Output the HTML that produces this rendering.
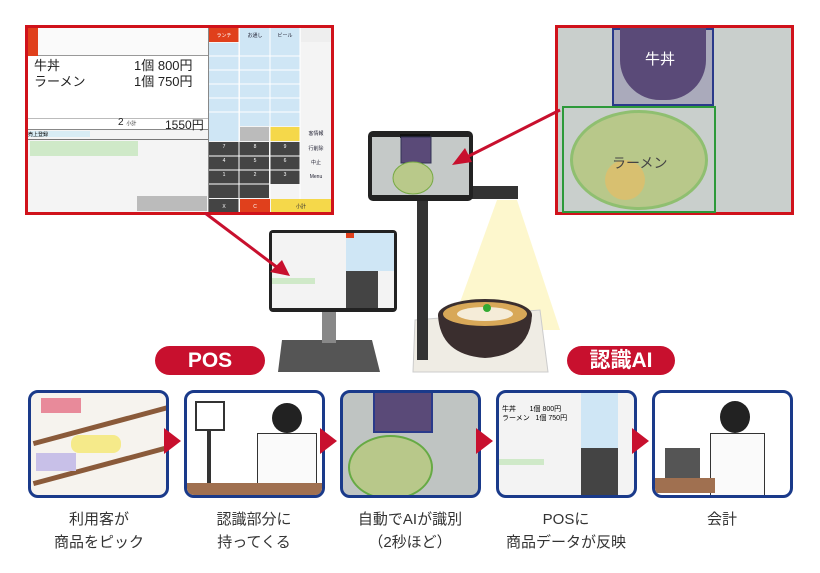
<!DOCTYPE html>
<html><head><meta charset="utf-8"><style>
*{margin:0;padding:0;box-sizing:border-box}
body{width:820px;height:573px;background:#fff;position:relative;overflow:hidden;font-family:"Liberation Sans","Noto Sans CJK JP",sans-serif}
.a{position:absolute}
.k{position:absolute;font-size:5px;display:flex;align-items:center;justify-content:center;color:#223;text-align:center;line-height:1}
.box{position:absolute;top:390px;width:141px;height:108px;border:3px solid #1a3a8a;border-radius:10px;overflow:hidden;background:#fff}
.lab{position:absolute;top:508px;width:160px;text-align:center;font-size:15px;line-height:23px;color:#333}
.tri{position:absolute;top:428px;width:0;height:0;border-top:13px solid transparent;border-bottom:13px solid transparent;border-left:17px solid #c8102e}
.pill{position:absolute;top:346px;height:29px;border-radius:15px;background:#c8102e;color:#fff;font-weight:bold;font-size:21px;text-align:center;line-height:29px}
</style></head><body>

<!-- top-left POS screen -->
<div class="a" style="left:25px;top:25px;width:309px;height:190px;border:3px solid #d0121b;background:#f4f4f4"></div>
<div class="a" style="left:28px;top:28px;width:10px;height:32px;background:#e0401c"></div>
<div class="a" style="left:38px;top:28px;width:170px;height:28px;background:#fafafa;border-bottom:1px solid #999"></div>
<div class="a" style="left:28px;top:56px;width:180px;height:62px;background:#fff"></div>
<div class="a" style="left:34px;top:58px;font-size:13px;line-height:16px;color:#222">牛丼<br>ラーメン</div>
<div class="a" style="left:134px;top:58px;font-size:13px;line-height:16px;color:#222">1個 800円<br>1個 750円</div>
<div class="a" style="left:28px;top:118px;width:180px;height:12px;background:#fff;border-top:1px solid #bbb;border-bottom:1px solid #888"></div>
<div class="a" style="left:118px;top:117px;font-size:10px;color:#222">2 <span style="font-size:5px">小計</span></div>
<div class="a" style="left:165px;top:116px;font-size:12px;color:#222">1550円</div>
<div class="a" style="left:28px;top:131px;width:62px;height:6px;background:#d8ecf4;font-size:5px">売上登録</div>
<div class="a" style="left:28px;top:139px;width:180px;height:1px;background:#777"></div>
<div class="a" style="left:30px;top:141px;width:108px;height:15px;background:#cfe9c8"></div>
<div class="a" style="left:137px;top:196px;width:70px;height:15px;background:#bbb"></div>
<div class="a" style="left:208px;top:28px;width:1px;height:184px;background:#888"></div>
<div id="kp"></div>

<!-- top-right AI frame -->
<div class="a" style="left:555px;top:25px;width:239px;height:190px;border:3px solid #d0121b;background:#c9cfcc"></div>
<div class="a" style="left:612px;top:28px;width:102px;height:78px;border:2px solid #2a3a8a;background:#aab"></div>
<div class="a" style="left:620px;top:28px;width:86px;height:72px;border-radius:0 0 40px 40px;background:#5a4a78"></div>
<div class="a" style="left:645px;top:48px;font-size:15px;color:#fff">牛丼</div>
<div class="a" style="left:562px;top:106px;width:154px;height:107px;border:2px solid #2d9a3a"></div>
<div class="a" style="left:570px;top:110px;width:138px;height:100px;border-radius:50%;background:#b8c88a;border:3px solid #8fbf70"></div>
<div class="a" style="left:605px;top:160px;width:40px;height:40px;border-radius:50%;background:#d8c070"></div>
<div class="a" style="left:612px;top:153px;font-size:14px;color:#444">ラーメン</div>

<!-- central device -->
<svg class="a" style="left:0;top:0" width="820" height="380">
<polygon points="497,200 517,200 560,330 450,330" fill="#fdf5c0" opacity=".8"/>
<polygon points="415,320 540,310 548,372 413,372" fill="#efece4" stroke="#ccc"/>
<rect x="417" y="195" width="11" height="165" fill="#333"/>
<rect x="470" y="186" width="48" height="13" fill="#333"/>
<rect x="368" y="131" width="105" height="70" rx="5" fill="#222"/>
<rect x="372" y="137" width="97" height="58" fill="#c5c9c8"/>
<rect x="400" y="134" width="30" height="4" fill="#111"/>
<rect x="401" y="137" width="30" height="26" fill="#5a4a78" stroke="#335" />
<ellipse cx="413" cy="178" rx="20" ry="16" fill="#b9c98a" stroke="#7a4"/>
<ellipse cx="485" cy="315" rx="47" ry="16" fill="#3a2e2e"/>
<path d="M438,315 Q440,355 485,358 Q530,355 532,315Z" fill="#3a2e2e"/>
<ellipse cx="485" cy="314" rx="42" ry="12" fill="#d8a858"/>
<ellipse cx="485" cy="314" rx="28" ry="7" fill="#f5ecd8"/>
<circle cx="487" cy="308" r="4" fill="#3a3"/>
<polygon points="282,340 372,340 380,372 278,372" fill="#555"/>
<rect x="322" y="305" width="14" height="38" fill="#888"/>
<rect x="269" y="230" width="128" height="82" rx="4" fill="#222"/>
<rect x="272" y="233" width="122" height="75" fill="#f3f3f3"/>
<rect x="346" y="233" width="48" height="38" fill="#cfe6f5"/>
<rect x="346" y="271" width="32" height="37" fill="#444"/>
<rect x="272" y="278" width="43" height="6" fill="#cfe9c8"/>
<rect x="346" y="233" width="8" height="5" fill="#e0401c"/>
<line x1="205" y1="213" x2="278" y2="268" stroke="#c8102e" stroke-width="3"/>
<polygon points="290,276 270,272 282,260" fill="#c8102e"/>
<line x1="560" y1="110" x2="465" y2="158" stroke="#c8102e" stroke-width="3"/>
<polygon points="452,165 465,148 472,162" fill="#c8102e"/>
</svg>

<div class="pill" style="left:155px;width:110px">POS</div>
<div class="pill" style="left:567px;width:108px">認識AI</div>

<!-- bottom flow -->
<div class="box" style="left:28px;background:#f6f3ee">
 <div class="a" style="left:0;top:30px;width:140px;height:5px;background:#8a5a3a;transform:rotate(-15deg)"></div>
 <div class="a" style="left:0;top:70px;width:140px;height:5px;background:#8a5a3a;transform:rotate(-15deg)"></div>
 <div class="a" style="left:40px;top:42px;width:50px;height:18px;background:#f5ea8a;border-radius:8px"></div>
 <div class="a" style="left:5px;top:60px;width:40px;height:18px;background:#c8c0e8"></div>
 <div class="a" style="left:10px;top:5px;width:40px;height:15px;background:#e88a9a"></div>
</div>
<div class="box" style="left:184px">
 <div class="a" style="left:8px;top:8px;width:30px;height:30px;border:2px solid #333"></div>
 <div class="a" style="left:20px;top:38px;width:4px;height:60px;background:#333"></div>
 <div class="a" style="left:85px;top:10px;width:30px;height:30px;border-radius:50%;background:#222"></div>
 <div class="a" style="left:70px;top:40px;width:60px;height:70px;background:#fafafa;border:1px solid #333"></div>
 <div class="a" style="left:0;top:90px;width:140px;height:15px;background:#a07050"></div>
</div>
<div class="box" style="left:340px;background:#bfc4c2">
 <div class="a" style="left:30px;top:-5px;width:60px;height:45px;border:2px solid #2a3a8a;background:#5a4a78"></div>
 <div class="a" style="left:5px;top:42px;width:85px;height:65px;border-radius:50%;background:#b8c88a;border:2px solid #6a4"></div>
</div>
<div class="box" style="left:496px;background:#f3f3f3">
 <div class="a" style="left:82px;top:0;width:37px;height:55px;background:#cfe6f5"></div>
 <div class="a" style="left:82px;top:55px;width:37px;height:48px;background:#444"></div>
 <div class="a" style="left:3px;top:12px;font-size:7px;line-height:9px">牛丼 &nbsp;&nbsp;&nbsp;&nbsp;&nbsp;&nbsp;1個 800円<br>ラーメン &nbsp;&nbsp;1個 750円</div>
 <div class="a" style="left:0;top:66px;width:45px;height:6px;background:#cfe9c8"></div>
</div>
<div class="box" style="left:652px">
 <div class="a" style="left:65px;top:8px;width:30px;height:32px;border-radius:50%;background:#222"></div>
 <div class="a" style="left:55px;top:40px;width:55px;height:70px;background:#fafafa;border:1px solid #333"></div>
 <div class="a" style="left:10px;top:55px;width:35px;height:30px;background:#555"></div>
 <div class="a" style="left:0;top:85px;width:60px;height:15px;background:#a07050"></div>
</div>
<div class="tri" style="left:164px"></div>
<div class="tri" style="left:320px"></div>
<div class="tri" style="left:476px"></div>
<div class="tri" style="left:632px"></div>

<div class="lab" style="left:19px">利用客が<br>商品をピック</div>
<div class="lab" style="left:174px">認識部分に<br>持ってくる</div>
<div class="lab" style="left:330px">自動でAIが識別<br>（2秒ほど）</div>
<div class="lab" style="left:486px">POSに<br>商品データが反映</div>
<div class="lab" style="left:642px">会計</div>

<div class="a" style="left:209px;top:28px;width:122px;height:184px">
<svg width="122" height="184">
<g font-size="5" text-anchor="middle" fill="#223">
<rect x="0" y="0" width="30" height="14" fill="#e0401c"/>
<rect x="31" y="0" width="60" height="98" fill="#cfe6f5"/>
<rect x="0" y="15" width="30" height="98" fill="#cfe6f5"/>
<rect x="31" y="99" width="29" height="14" fill="#bbb"/>
<rect x="61" y="99" width="30" height="14" fill="#f5d84a"/>
<rect x="92" y="0" width="30" height="14" fill="#eee"/>
<rect x="0" y="114" width="60" height="56" fill="#444"/>
<rect x="61" y="114" width="30" height="42" fill="#444"/>
<rect x="0" y="171" width="30" height="13" fill="#444"/>
<rect x="31" y="171" width="30" height="13" fill="#e0401c"/>
<rect x="62" y="171" width="60" height="13" fill="#f5d84a"/>
<path d="M0,28H91M0,42H91M0,56H91M0,70H91M0,84H91M0,128H91M0,142H91M0,156H61M30,0V184M61,0V171M91,0V171" stroke="#fff" stroke-width="1"/>
<text x="15" y="9" fill="#fff">ランチ</text><text x="46" y="9">お通し</text><text x="76" y="9">ビール</text>
<text x="15" y="120" fill="#fff">7</text><text x="46" y="120" fill="#fff">8</text><text x="76" y="120" fill="#fff">9</text>
<text x="15" y="134" fill="#fff">4</text><text x="46" y="134" fill="#fff">5</text><text x="76" y="134" fill="#fff">6</text>
<text x="15" y="148" fill="#fff">1</text><text x="46" y="148" fill="#fff">2</text><text x="76" y="148" fill="#fff">3</text>
<text x="15" y="180" fill="#fff">X</text><text x="46" y="180" fill="#fff">C</text><text x="92" y="180">小計</text>
<text x="107" y="107">客情報</text><text x="107" y="122">行削除</text><text x="107" y="136">中止</text><text x="107" y="150">Menu</text>
</g></svg></div>
</body></html>
